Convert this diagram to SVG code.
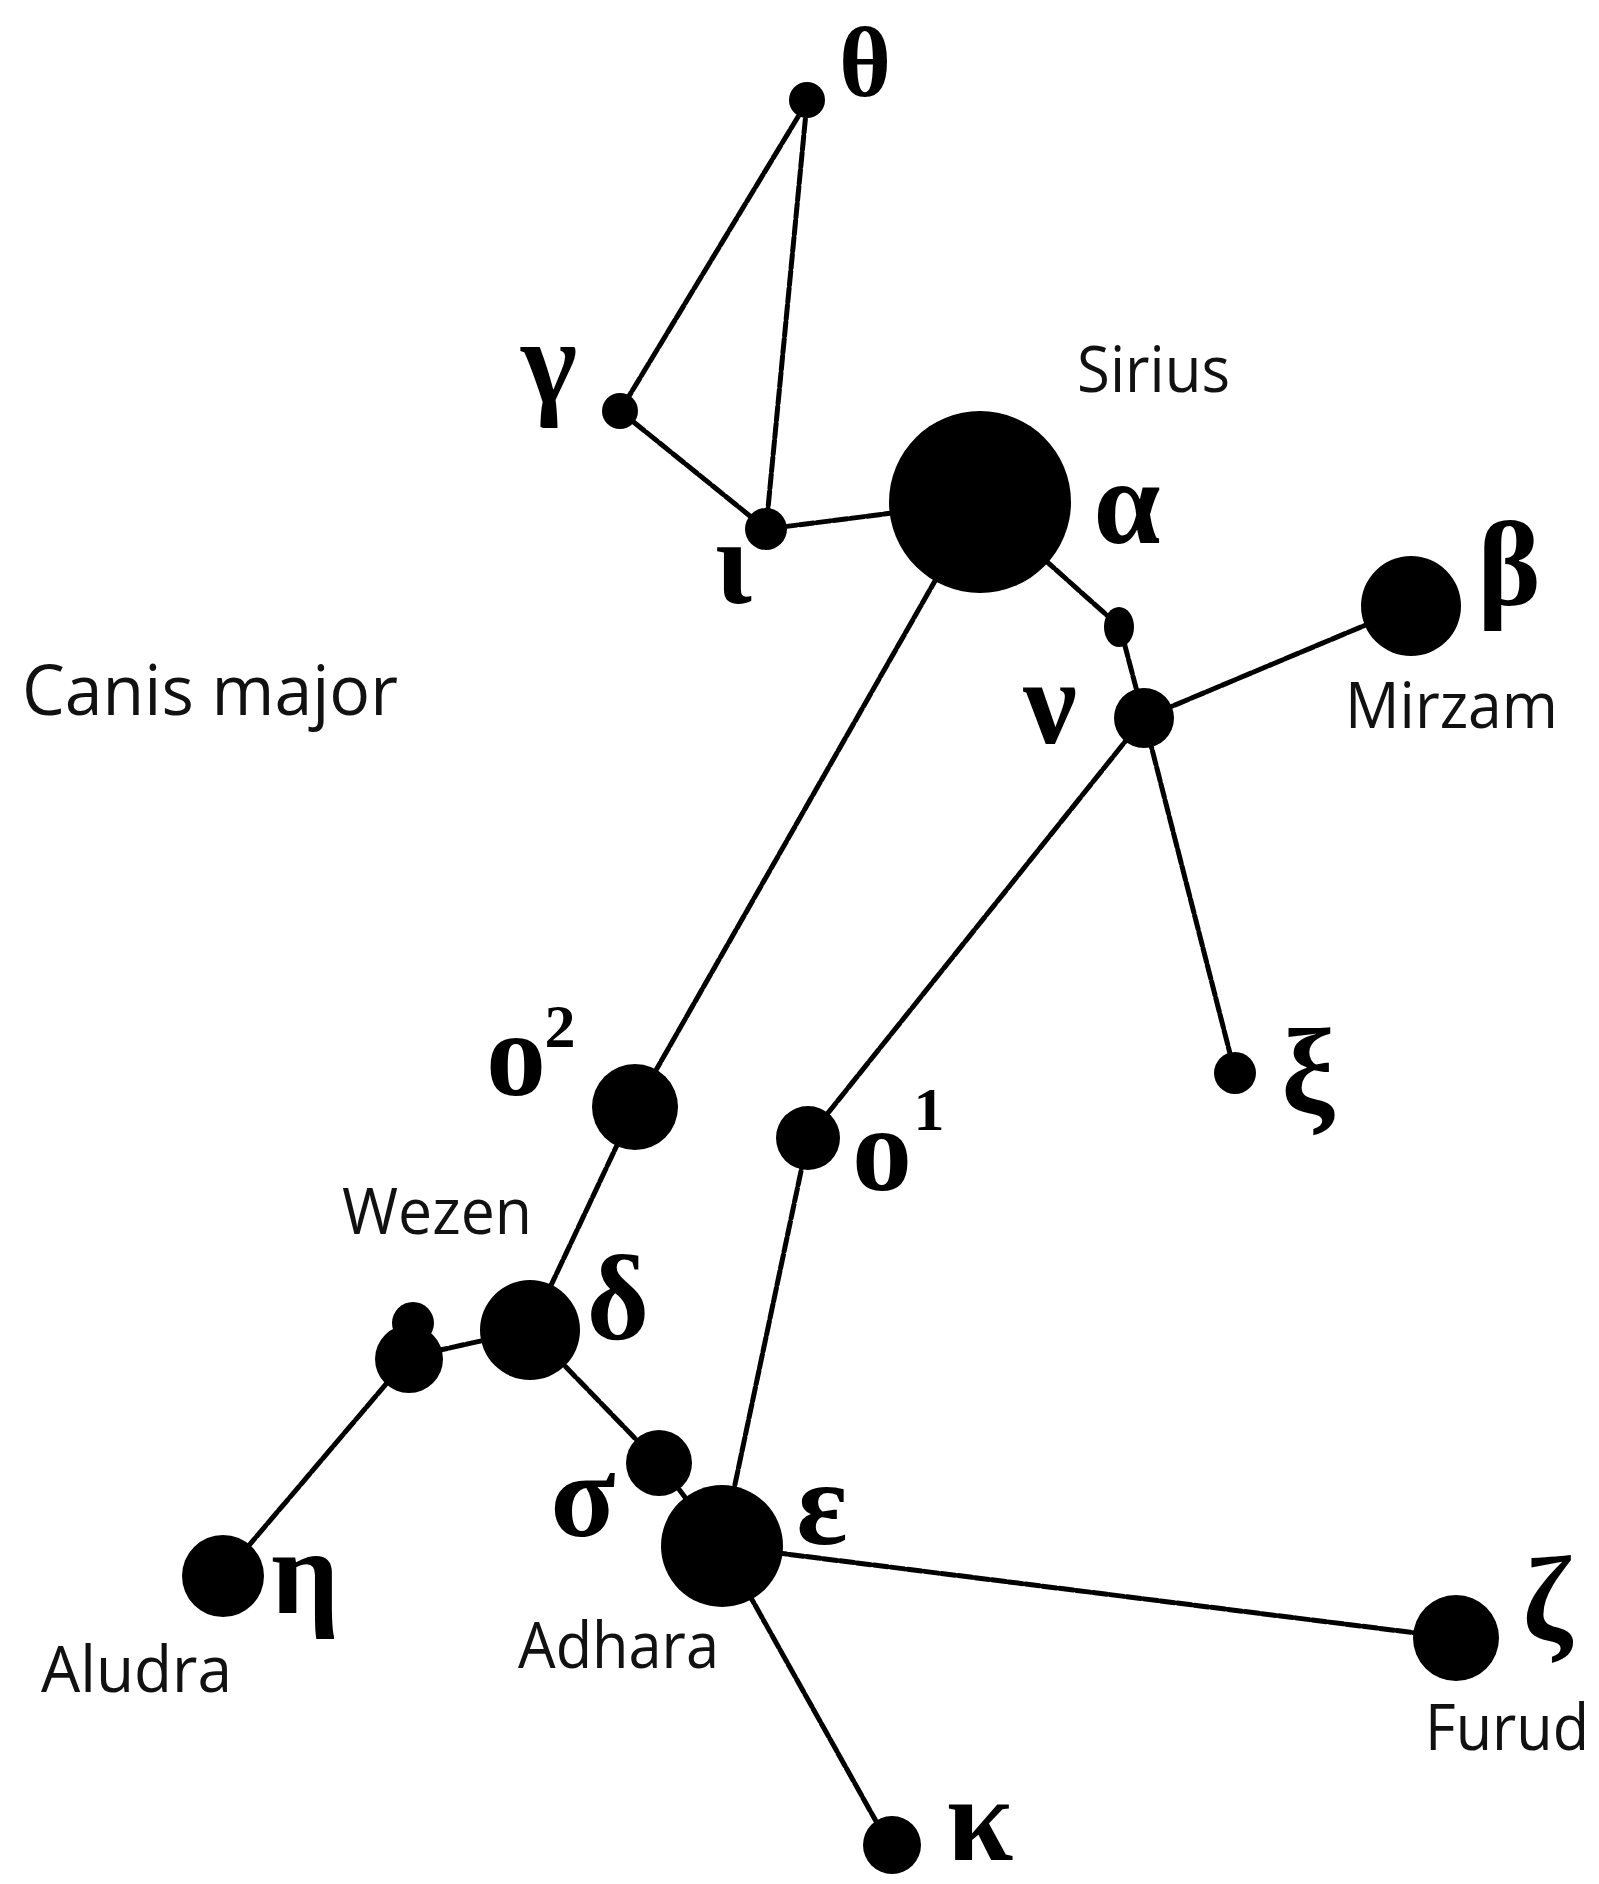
<svg xmlns="http://www.w3.org/2000/svg" width="1599" height="1884" viewBox="0 0 1599 1884">
<style>
.bg{fill:#ffffff}
.ln{stroke:#000;stroke-width:5;fill:none;stroke-dasharray:14 3;stroke-linecap:round}
.st{fill:#000}
.gk{font-family:"Liberation Serif","DejaVu Serif",serif;font-weight:bold;font-size:120px;fill:#000;text-anchor:middle}
.sup{font-family:"Liberation Serif","DejaVu Serif",serif;font-weight:bold;font-size:62px;fill:#000;text-anchor:middle}
.nm{font-family:"Open Sans","Liberation Sans",sans-serif;font-size:64px;fill:#111}
</style>
<rect class="bg" x="0" y="0" width="1599" height="1884"/>
<g id="connectors">
<line class="ln" x1="807" y1="102" x2="620" y2="411"/>
<line class="ln" x1="807" y1="102" x2="766" y2="529"/>
<line class="ln" x1="620" y1="411" x2="766" y2="529"/>
<line class="ln" x1="766" y1="529" x2="980" y2="502"/>
<line class="ln" x1="980" y1="502" x2="1120" y2="627"/>
<line class="ln" x1="1120" y1="627" x2="1144" y2="718"/>
<line class="ln" x1="1144" y1="718" x2="1411" y2="606"/>
<line class="ln" x1="1144" y1="718" x2="1235" y2="1073"/>
<line class="ln" x1="1144" y1="718" x2="808" y2="1138"/>
<line class="ln" x1="980" y1="502" x2="635" y2="1107"/>
<line class="ln" x1="635" y1="1107" x2="530" y2="1330"/>
<line class="ln" x1="530" y1="1330" x2="409" y2="1357"/>
<line class="ln" x1="409" y1="1357" x2="223" y2="1576"/>
<line class="ln" x1="530" y1="1330" x2="659" y2="1463"/>
<line class="ln" x1="659" y1="1463" x2="722" y2="1546"/>
<line class="ln" x1="808" y1="1138" x2="722" y2="1546"/>
<line class="ln" x1="722" y1="1546" x2="1456" y2="1638"/>
<line class="ln" x1="722" y1="1546" x2="891" y2="1848"/>
</g>
<g id="theta"><circle class="st" cx="807" cy="100" r="18"/><text class="gk" x="865" y="96" style="font-size:100px">θ</text></g>
<g id="gamma"><circle class="st" cx="620" cy="411" r="18"/><text class="gk" x="549" y="402">γ</text></g>
<g id="iota"><circle class="st" cx="766" cy="529" r="21"/><text class="gk" x="733" y="603">ι</text></g>
<g id="sirius"><circle class="st" cx="980" cy="502" r="91"/><text class="gk" x="1127" y="543">α</text><text class="nm" x="1077" y="392" textLength="153" lengthAdjust="spacingAndGlyphs">Sirius</text></g>
<g id="small-alpha-nu"><ellipse class="st" cx="1119" cy="627" rx="15" ry="20"/></g>
<g id="nu"><circle class="st" cx="1144" cy="718" r="30"/><text class="gk" x="1050" y="743">ν</text></g>
<g id="mirzam"><circle class="st" cx="1411" cy="606" r="50"/><text class="gk" x="1509" y="605">β</text><text class="nm" x="1345" y="728" textLength="213" lengthAdjust="spacingAndGlyphs">Mirzam</text></g>
<g id="xi"><circle class="st" cx="1235" cy="1073" r="21"/><text class="gk" x="1308" y="1112">ξ</text></g>
<g id="omicron2"><circle class="st" cx="635" cy="1107" r="43"/><text class="gk" x="516" y="1095">ο</text><text class="sup" x="560" y="1047">2</text></g>
<g id="omicron1"><circle class="st" cx="808" cy="1138" r="32"/><text class="gk" x="882" y="1190">ο</text><text class="sup" x="929" y="1130">1</text></g>
<g id="wezen"><circle class="st" cx="530" cy="1330" r="50"/><text class="gk" x="618" y="1339">δ</text><text class="nm" x="342" y="1234" textLength="190" lengthAdjust="spacingAndGlyphs">Wezen</text></g>
<g id="small-delta-eta"><circle class="st" cx="409" cy="1359" r="34"/><circle class="st" cx="413" cy="1323" r="21"/></g>
<g id="sigma"><circle class="st" cx="659" cy="1463" r="33"/><text class="gk" x="583" y="1536">σ</text></g>
<g id="adhara"><circle class="st" cx="722" cy="1546" r="61"/><text class="gk" x="822" y="1544">ε</text><text class="nm" x="518" y="1668" textLength="201" lengthAdjust="spacingAndGlyphs">Adhara</text></g>
<g id="aludra"><circle class="st" cx="223" cy="1576" r="41"/><text class="gk" x="305" y="1613">η</text><text class="nm" x="41" y="1692" textLength="191" lengthAdjust="spacingAndGlyphs">Aludra</text></g>
<g id="furud"><circle class="st" cx="1456" cy="1638" r="43"/><text class="gk" x="1547" y="1640">ζ</text><text class="nm" x="1425" y="1750" textLength="164" lengthAdjust="spacingAndGlyphs">Furud</text></g>
<g id="kappa"><circle class="st" cx="892" cy="1845" r="29"/><text class="gk" x="980" y="1860">κ</text></g>
<g id="title"><text class="nm" x="22" y="715" textLength="376" lengthAdjust="spacingAndGlyphs" style="font-size:70px">Canis major</text></g>
</svg>
